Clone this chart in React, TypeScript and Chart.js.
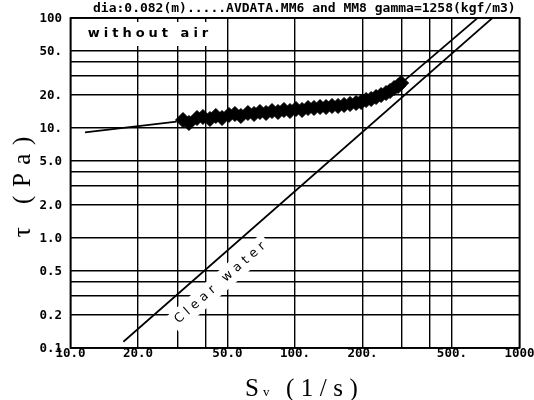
import { useEffect, useRef } from "react";
import { Chart, registerables } from "chart.js";

Chart.register(...registerables);

// Measured shear rate Sv (1/s) and shear stress tau (Pa), MM6 and MM8 runs
const shearRates = [
  31.7, 33.7, 36.6, 38.9, 41.8, 44.4, 47.3, 50.8, 54.0, 57.4, 61.7, 65.7, 69.8,
  74.3, 79.0, 84.0, 89.3, 95.0, 101.0, 107.5, 114.3, 121.5, 129.3, 137.5, 146.2,
  155.5, 165.4, 175.9, 187.1, 197.0, 207.4, 218.3, 229.7, 241.8, 254.5, 265.2,
  276.4, 287.9, 296.9,
];
const shearStress = [
  11.82, 11.1, 12.33, 12.59, 12.07, 12.86, 12.33, 13.13, 13.41, 12.86, 13.69,
  13.41, 13.98, 13.69, 14.27, 13.98, 14.58, 14.27, 14.89, 14.58, 15.2, 15.2,
  15.52, 15.52, 15.85, 15.85, 16.19, 16.53, 16.88, 17.24, 17.97, 18.35, 19.13,
  19.95, 20.81, 21.7, 23.1, 24.09, 25.65,
];

// Fitted laminar line below the measured range
const fitRates = [11.6, 29.7];
const fitStress = [9.14, 11.41];

// Turbulent slurry line above the measured range
const slurryRates = [288, 650];
const slurryStress = [24.1, 100];

// Clear water reference line
const waterRates = [17.2, 757];
const waterStress = [0.114, 100];

// Grid and tick labels
const xGridValues = [10, 20, 30, 40, 50, 100, 200, 300, 400, 500, 1000];
const yGridValues = [0.1, 0.2, 0.3, 0.4, 0.5, 1, 2, 3, 4, 5, 10, 20, 30, 40, 50, 100];
const xTickValues = [10, 20, 50, 100, 200, 500, 1000];
const xTickText = ["10.0", "20.0", "50.0", "100.", "200.", "500.", "1000"];
const yTickValues = [100, 50, 20, 10, 5, 2, 1, 0.5, 0.2, 0.1];
const yTickText = ["100", "50.", "20.", "10.", "5.0", "2.0", "1.0", "0.5", "0.2", "0.1"];

const titleText = "dia:0.082(m).....AVDATA.MM6 and MM8 gamma=1258(kgf/m3)";
const noteText = "without air";
const waterText = "Clear water";

const toPoints = (xs: number[], ys: number[]) => xs.map((x, i) => ({ x, y: ys[i] }));

function spacedWidth(ctx: CanvasRenderingContext2D, text: string, spacing: number) {
  let w = 0;
  for (const ch of text) w += ctx.measureText(ch).width;
  return w + spacing * (text.length - 1);
}

function drawSpaced(
  ctx: CanvasRenderingContext2D,
  text: string,
  x: number,
  y: number,
  spacing: number,
  align: "left" | "center" = "left"
) {
  const total = spacedWidth(ctx, text, spacing);
  let cx = align === "center" ? x - total / 2 : x;
  ctx.textAlign = "left";
  for (const ch of text) {
    ctx.fillText(ch, cx, y);
    cx += ctx.measureText(ch).width + spacing;
  }
}

const annotations = {
  id: "annotations",
  beforeDraw(chart: Chart) {
    const ctx = chart.ctx;
    ctx.save();
    ctx.fillStyle = "#fff";
    ctx.fillRect(0, 0, chart.width, chart.height);
    ctx.restore();
  },
  beforeDatasetsDraw(chart: Chart) {
    const ctx = chart.ctx;
    const xs = chart.scales.x;
    const ys = chart.scales.y;
    ctx.save();

    // "without air" label box
    ctx.fillStyle = "#fff";
    ctx.fillRect(72, 22, 148, 24);
    ctx.fillStyle = "#000";
    ctx.font = "bold 13px 'DejaVu Sans'";
    ctx.textBaseline = "middle";
    drawSpaced(ctx, noteText, 148, 34, 4, "center");

    // "Clear water" label along the water line
    const x0 = xs.getPixelForValue(waterRates[0]);
    const y0 = ys.getPixelForValue(waterStress[0]);
    const x1 = xs.getPixelForValue(waterRates[1]);
    const y1 = ys.getPixelForValue(waterStress[1]);
    const angle = Math.atan2(y1 - y0, x1 - x0);
    ctx.translate(220, 283);
    ctx.rotate(angle);
    ctx.font = "12.5px 'DejaVu Sans'";
    const w = spacedWidth(ctx, waterText, 4.4);
    ctx.fillStyle = "#fff";
    ctx.fillRect(-w / 2 - 5, -10, w + 10, 20);
    ctx.fillStyle = "#000";
    ctx.textBaseline = "middle";
    drawSpaced(ctx, waterText, 0, 0, 4.4, "center");
    ctx.restore();
  },
  afterDraw(chart: Chart) {
    const ctx = chart.ctx;
    const { left, right, top, bottom } = chart.chartArea;
    const xs = chart.scales.x;
    const ys = chart.scales.y;
    ctx.save();

    // frame
    ctx.strokeStyle = "#000";
    ctx.lineWidth = 1.8;
    ctx.strokeRect(left, top, right - left, bottom - top);

    ctx.fillStyle = "#000";
    // y tick labels
    ctx.font = "bold 12.5px 'DejaVu Sans Mono'";
    ctx.textAlign = "right";
    ctx.textBaseline = "middle";
    yTickValues.forEach((v, i) => {
      ctx.fillText(yTickText[i], 62, ys.getPixelForValue(v) + 1);
    });

    // x tick labels
    ctx.font = "bold 12.5px 'DejaVu Sans Mono'";
    ctx.textAlign = "center";
    xTickValues.forEach((v, i) => {
      ctx.fillText(xTickText[i], xs.getPixelForValue(v), 354);
    });

    // title
    ctx.font = "bold 13px 'DejaVu Sans Mono'";
    ctx.textAlign = "left";
    ctx.textBaseline = "alphabetic";
    ctx.fillText(titleText, 93, 12);

    // x axis title: Sv (1/s)
    ctx.font = "25px 'Liberation Serif'";
    ctx.fillText("S", 245, 396);
    ctx.font = "13px 'Liberation Serif'";
    ctx.fillText("v", 263, 396);
    ctx.font = "25px 'Liberation Serif'";
    drawSpaced(ctx, "(1/s)", 286, 396, 6.5);

    // y axis title: tau (Pa)
    ctx.translate(30, 187);
    ctx.rotate(-Math.PI / 2);
    ctx.font = "25px 'Liberation Serif'";
    drawSpaced(ctx, "\u03c4 (Pa)", 0, 0, 8.5, "center");
    ctx.restore();
  },
};

export default function App() {
  const canvasRef = useRef<HTMLCanvasElement | null>(null);

  useEffect(() => {
    if (!canvasRef.current) return;
    const chart = new Chart(canvasRef.current, {
      type: "scatter",
      data: {
        datasets: [
          {
            data: toPoints(shearRates, shearStress),
            showLine: false,
            pointStyle: "rectRot",
            pointRadius: 7.5,
            backgroundColor: "#000",
            borderColor: "#000",
            borderWidth: 1,
          },
          {
            data: toPoints(fitRates, fitStress),
            showLine: true,
            pointRadius: 0,
            borderColor: "#000",
            borderWidth: 1.7,
          },
          {
            data: toPoints(slurryRates, slurryStress),
            showLine: true,
            pointRadius: 0,
            borderColor: "#000",
            borderWidth: 1.7,
          },
          {
            data: toPoints(waterRates, waterStress),
            showLine: true,
            pointRadius: 0,
            borderColor: "#000",
            borderWidth: 1.7,
          },
        ],
      },
      options: {
        responsive: false,
        animation: false,
        events: [],
        layout: { padding: { left: 70.5, right: 14.5, top: 18, bottom: 52 } },
        plugins: { legend: { display: false }, tooltip: { enabled: false } },
        scales: {
          x: {
            type: "logarithmic",
            min: 10,
            max: 1000,
            afterBuildTicks: (scale: any) => {
              scale.ticks = xGridValues.map((v) => ({ value: v }));
            },
            afterFit: (scale: any) => {
              scale.height = 0;
            },
            ticks: { display: false },
            border: { display: false },
            grid: { color: "#000", lineWidth: 1.4, drawTicks: false },
          },
          y: {
            type: "logarithmic",
            min: 0.1,
            max: 100,
            afterBuildTicks: (scale: any) => {
              scale.ticks = yGridValues.map((v) => ({ value: v }));
            },
            afterFit: (scale: any) => {
              scale.width = 0;
            },
            ticks: { display: false },
            border: { display: false },
            grid: { color: "#000", lineWidth: 1.4, drawTicks: false },
          },
        },
      },
      plugins: [annotations],
    });
    return () => chart.destroy();
  }, []);

  return (
    <div style={{ position: "absolute", left: 0, top: 0, width: 534, height: 400, background: "#fff" }}>
      <canvas ref={canvasRef} width={534} height={400} />
    </div>
  );
}
